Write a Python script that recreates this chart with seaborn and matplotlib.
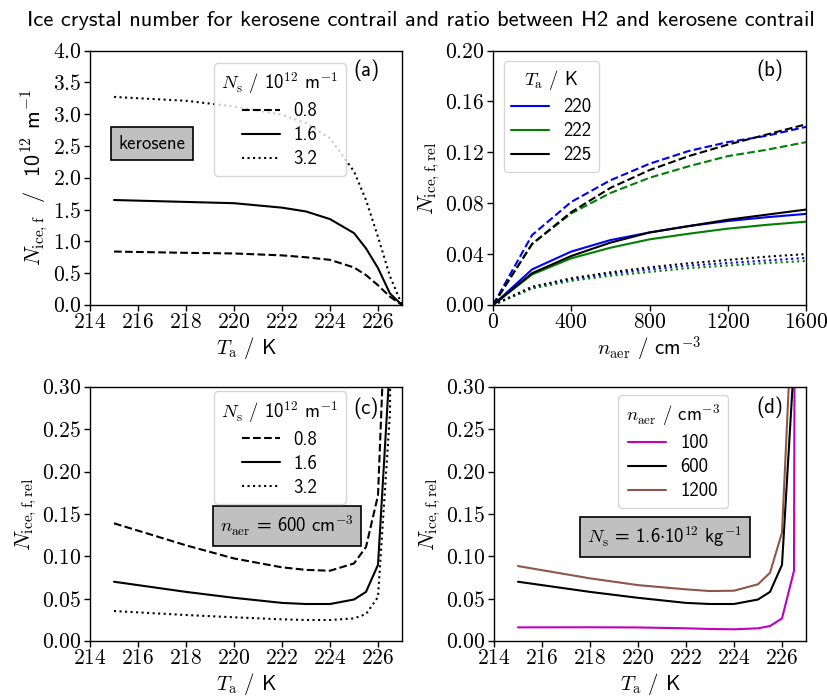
import matplotlib
matplotlib.use("Agg")
import matplotlib.pyplot as plt
from matplotlib.lines import Line2D
from matplotlib.ticker import FormatStrFormatter, MultipleLocator
import seaborn as sns

# ---- data -------------------------------------------------------------
# (a) final ice crystal number, kerosene contrail, vs ambient temperature
T_a = [215, 218, 220, 222, 223, 224, 225, 225.5, 226, 226.5, 227]
N_ice_08 = [0.84, 0.82, 0.81, 0.78, 0.75, 0.71, 0.59, 0.47, 0.31, 0.13, 0.0]
N_ice_16 = [1.65, 1.62, 1.60, 1.53, 1.47, 1.35, 1.13, 0.89, 0.58, 0.18, 0.0]
N_ice_32 = [3.27, 3.21, 3.12, 2.99, 2.86, 2.62, 2.10, 1.65, 1.07, 0.45, 0.0]

# (b) H2 / kerosene ratio vs aerosol number concentration
n_aer = [0, 200, 400, 600, 800, 1000, 1200, 1400, 1600]
rel_220_08 = [0, 0.055, 0.081, 0.098, 0.111, 0.121, 0.128, 0.133, 0.140]
rel_222_08 = [0, 0.048, 0.072, 0.088, 0.100, 0.109, 0.117, 0.122, 0.128]
rel_225_08 = [0, 0.048, 0.073, 0.092, 0.106, 0.117, 0.126, 0.134, 0.142]
rel_220_16 = [0, 0.028, 0.042, 0.051, 0.057, 0.062, 0.066, 0.069, 0.0716]
rel_222_16 = [0, 0.024, 0.0367, 0.045, 0.0516, 0.056, 0.060, 0.063, 0.0655]
rel_225_16 = [0, 0.025, 0.0385, 0.049, 0.057, 0.062, 0.067, 0.071, 0.075]
rel_220_32 = [0, 0.0135, 0.020, 0.0245, 0.028, 0.031, 0.033, 0.035, 0.037]
rel_222_32 = [0, 0.013, 0.019, 0.023, 0.026, 0.029, 0.031, 0.033, 0.0346]
rel_225_32 = [0, 0.0144, 0.021, 0.0257, 0.0296, 0.0328, 0.0354, 0.038, 0.040]

# (c) ratio vs temperature, n_aer = 600 cm^-3
rel_T_08 = [0.139, 0.113, 0.0975, 0.087, 0.084, 0.083, 0.0916, 0.111, 0.172, 0.53, 3.0]
rel_T_16 = [0.070, 0.058, 0.051, 0.045, 0.0437, 0.0437, 0.049, 0.058, 0.090, 0.33, 3.0]
rel_T_32 = [0.0354, 0.0307, 0.028, 0.0256, 0.0248, 0.0248, 0.0267, 0.0318, 0.052, 0.27, 3.0]

# (d) ratio vs temperature, N_s = 1.6e12
rel_T_n100 = [0.0161, 0.0162, 0.016, 0.015, 0.0142, 0.0138, 0.015, 0.0177, 0.0267, 0.083, 5.5]
rel_T_n600 = rel_T_16
rel_T_n1200 = [0.0885, 0.074, 0.066, 0.061, 0.059, 0.0594, 0.067, 0.0806, 0.128, 0.435, 3.0]

Ns_labels = ["0.8", "1.6", "3.2"]
Ta_labels = ["220", "222", "225"]
naer_labels = ["100", "600", "1200"]

# ---- style ------------------------------------------------------------
sns.set_style("ticks", rc={
    "axes.edgecolor": "black", "text.color": "black",
    "axes.labelcolor": "black", "xtick.color": "black",
    "ytick.color": "black",
})
plt.rcParams["font.family"] = ["cmss10", "DejaVu Sans"]
plt.rcParams["mathtext.fontset"] = "cm"
plt.rcParams["axes.unicode_minus"] = False
plt.rcParams["xtick.direction"] = "out"
plt.rcParams["ytick.direction"] = "out"

TICK = 15.5
LAB = 15
YLAB = 16
LEG = 13.5
styles = ["--", "-", ":"]
cols_T = ["#0000ff", "#008000", "black"]
cols_n = ["#bf00bf", "black", "#8c564b"]
box = dict(boxstyle="square,pad=0.4", facecolor="#c0c0c0", edgecolor="black", linewidth=1.2)

fig = plt.figure(figsize=(8.27, 6.98), dpi=100)
W, H = 827, 698


def add_ax(l, r, t, b):
    return fig.add_axes([l / W, 1 - b / H, (r - l) / W, (b - t) / H])


def fmt(ax, yfmt):
    ax.yaxis.set_major_formatter(FormatStrFormatter("$" + yfmt + "$"))
    ax.xaxis.set_major_formatter(FormatStrFormatter("$%d$"))
    ax.tick_params(labelsize=TICK, width=1, length=4, pad=2)
    for s in ax.spines.values():
        s.set_linewidth(1.0)


def style_legend(ax, handles, labels, title, anchor):
    leg = ax.legend(handles, labels, title=title, loc="upper left",
                    bbox_to_anchor=anchor, borderaxespad=0, fontsize=LEG,
                    title_fontsize=LEG, handlelength=2.0, labelspacing=0.32,
                    handletextpad=0.75, borderpad=0.4, framealpha=0.8)
    return leg


ax_a = add_ax(90, 402, 50.5, 305)
ax_b = add_ax(493, 806, 50.5, 305)
ax_c = add_ax(90, 402, 387, 641)
ax_d = add_ax(494, 806, 387, 641)

# ---- (a) --------------------------------------------------------------
for y, ls in zip([N_ice_08, N_ice_16, N_ice_32], styles):
    sns.lineplot(x=T_a, y=y, ax=ax_a, color="black", linestyle=ls, linewidth=1.5)
ax_a.set_xlim(214, 227)
ax_a.set_ylim(0, 4)
ax_a.xaxis.set_major_locator(MultipleLocator(2))
ax_a.yaxis.set_major_locator(MultipleLocator(0.5))
fmt(ax_a, "%.1f")
ax_a.set_xlabel(r"$T_\mathrm{a}$ / K", fontsize=LAB, labelpad=2)
ax_a.set_ylabel(r"$N_\mathrm{ice,f}$  /  10$^{12}$ m$^{-1}$", fontsize=YLAB, labelpad=2)
h = [Line2D([], [], color="black", linestyle=ls, linewidth=1.5) for ls in styles]
style_legend(ax_a, h, Ns_labels, r"$N_\mathrm{s}$ / 10$^{12}$ m$^{-1}$", (0.397, 0.951))
ax_a.text(0.199, 0.633, "kerosene", transform=ax_a.transAxes, ha="center",
          va="center", fontsize=LEG, bbox=box)
ax_a.text(0.885, 0.923, "(a)", transform=ax_a.transAxes, ha="center",
          va="center", fontsize=LAB)

# ---- (b) --------------------------------------------------------------
series_b = [
    [rel_220_08, rel_222_08, rel_225_08],
    [rel_220_16, rel_222_16, rel_225_16],
    [rel_220_32, rel_222_32, rel_225_32],
]
for group, ls in zip(series_b, styles):
    for y, c in zip(group, cols_T):
        sns.lineplot(x=n_aer, y=y, ax=ax_b, color=c, linestyle=ls, linewidth=1.5)
ax_b.set_xlim(0, 1600)
ax_b.set_ylim(0, 0.2)
ax_b.xaxis.set_major_locator(MultipleLocator(400))
ax_b.yaxis.set_major_locator(MultipleLocator(0.04))
fmt(ax_b, "%.2f")
ax_b.set_xlabel(r"$n_\mathrm{aer}$ / cm$^{-3}$", fontsize=LAB, labelpad=2)
ax_b.set_ylabel(r"$N_\mathrm{ice,f,rel}$", fontsize=YLAB, labelpad=2)
h = [Line2D([], [], color=c, linewidth=1.5) for c in cols_T]
style_legend(ax_b, h, Ta_labels, r"$T_\mathrm{a}$ / K", (0.035, 0.959))
ax_b.text(0.885, 0.923, "(b)", transform=ax_b.transAxes, ha="center",
          va="center", fontsize=LAB)

# ---- (c) --------------------------------------------------------------
for y, ls in zip([rel_T_08, rel_T_16, rel_T_32], styles):
    sns.lineplot(x=T_a, y=y, ax=ax_c, color="black", linestyle=ls, linewidth=1.5)
ax_c.set_xlim(214, 227)
ax_c.set_ylim(0, 0.3)
ax_c.xaxis.set_major_locator(MultipleLocator(2))
ax_c.yaxis.set_major_locator(MultipleLocator(0.05))
fmt(ax_c, "%.2f")
ax_c.set_xlabel(r"$T_\mathrm{a}$ / K", fontsize=LAB, labelpad=2)
ax_c.set_ylabel(r"$N_\mathrm{ice,f,rel}$", fontsize=YLAB, labelpad=2)
h = [Line2D([], [], color="black", linestyle=ls, linewidth=1.5) for ls in styles]
style_legend(ax_c, h, Ns_labels, r"$N_\mathrm{s}$ / 10$^{12}$ m$^{-1}$", (0.397, 0.984))
ax_c.text(0.631, 0.453, r"$n_\mathrm{aer}$ = 600 cm$^{-3}$", transform=ax_c.transAxes,
          ha="center", va="center", fontsize=LEG, bbox=box)
ax_c.text(0.885, 0.917, "(c)", transform=ax_c.transAxes, ha="center",
          va="center", fontsize=LAB)

# ---- (d) --------------------------------------------------------------
for y, c in zip([rel_T_n100, rel_T_n600, rel_T_n1200], cols_n):
    sns.lineplot(x=T_a, y=y, ax=ax_d, color=c, linestyle="-", linewidth=1.5)
ax_d.set_xlim(214, 227)
ax_d.set_ylim(0, 0.3)
ax_d.xaxis.set_major_locator(MultipleLocator(2))
ax_d.yaxis.set_major_locator(MultipleLocator(0.05))
fmt(ax_d, "%.2f")
ax_d.set_xlabel(r"$T_\mathrm{a}$ / K", fontsize=LAB, labelpad=2)
ax_d.set_ylabel(r"$N_\mathrm{ice,f,rel}$", fontsize=YLAB, labelpad=2)
h = [Line2D([], [], color=c, linewidth=1.5) for c in cols_n]
style_legend(ax_d, h, naer_labels, r"$n_\mathrm{aer}$ / cm$^{-3}$", (0.399, 0.969))
ax_d.text(0.547, 0.41, r"$N_\mathrm{s}$ = 1.6$\cdot$10$^{12}$ kg$^{-1}$",
          transform=ax_d.transAxes, ha="center", va="center", fontsize=LEG, bbox=box)
ax_d.text(0.884, 0.921, "(d)", transform=ax_d.transAxes, ha="center",
          va="center", fontsize=LAB)

fig.text(0.509, 0.970,
         "Ice crystal number for kerosene contrail and ratio between H2 and kerosene contrail",
         ha="center", va="center", fontsize=16.2)

fig.savefig("out.png", dpi=100)
